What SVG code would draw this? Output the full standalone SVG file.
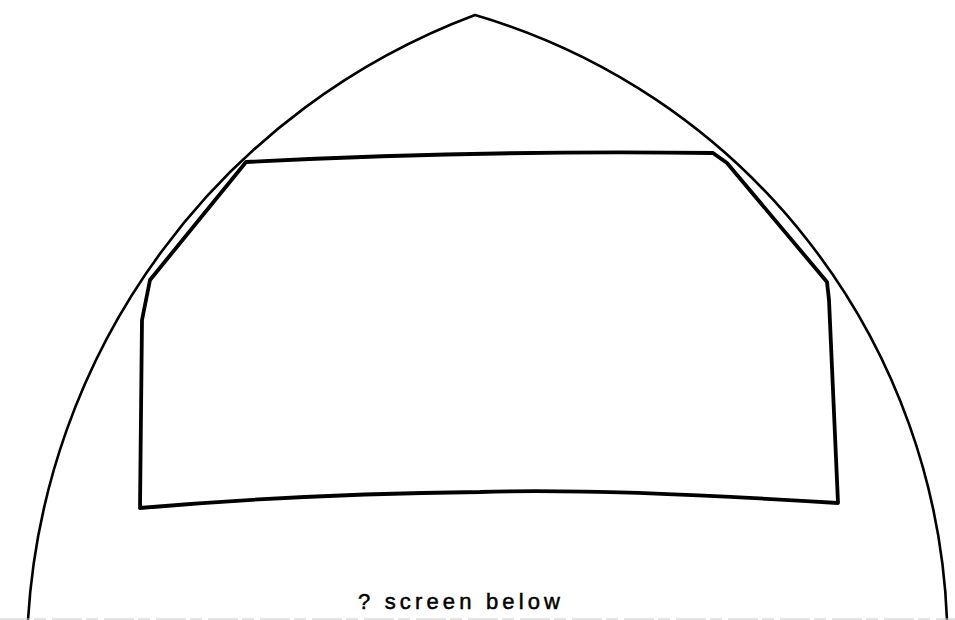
<svg xmlns="http://www.w3.org/2000/svg" width="955" height="620" viewBox="0 0 955 620">
<style>
.arch{fill:none;stroke:#000;stroke-width:2.6;stroke-linecap:round;stroke-linejoin:round}
.box{fill:none;stroke:#000;stroke-width:3.8;stroke-linecap:round;stroke-linejoin:round}
.lbl{font-family:"Liberation Sans","DejaVu Sans",sans-serif;font-size:22px;fill:#000;stroke:#000;stroke-width:0.5}
</style>
<rect width="955" height="620" fill="#fff"/>
<g id="arch">
<path class="arch" d="M 28 620 A 690 690 0 0 1 475 15 A 657 657 0 0 1 947 620"/>
</g>
<g id="screen">
<path class="box" d="M 246 162 Q 480 150 713 153 L 727 163 L 827 282 L 829 300 L 838 503 Q 600 488 480 492 Q 300 494 140 508 L 142 320 L 150 280 L 242 167 Z"/>
</g>
<g id="bottom-edge">
<line x1="0" y1="619" x2="955" y2="619" stroke="#ccc" stroke-width="1.2" stroke-dasharray="30 4 12 6"/>
</g>
<g id="label">
<text class="lbl" x="358" y="609" textLength="202" lengthAdjust="spacing">? screen below</text>
</g>
</svg>
